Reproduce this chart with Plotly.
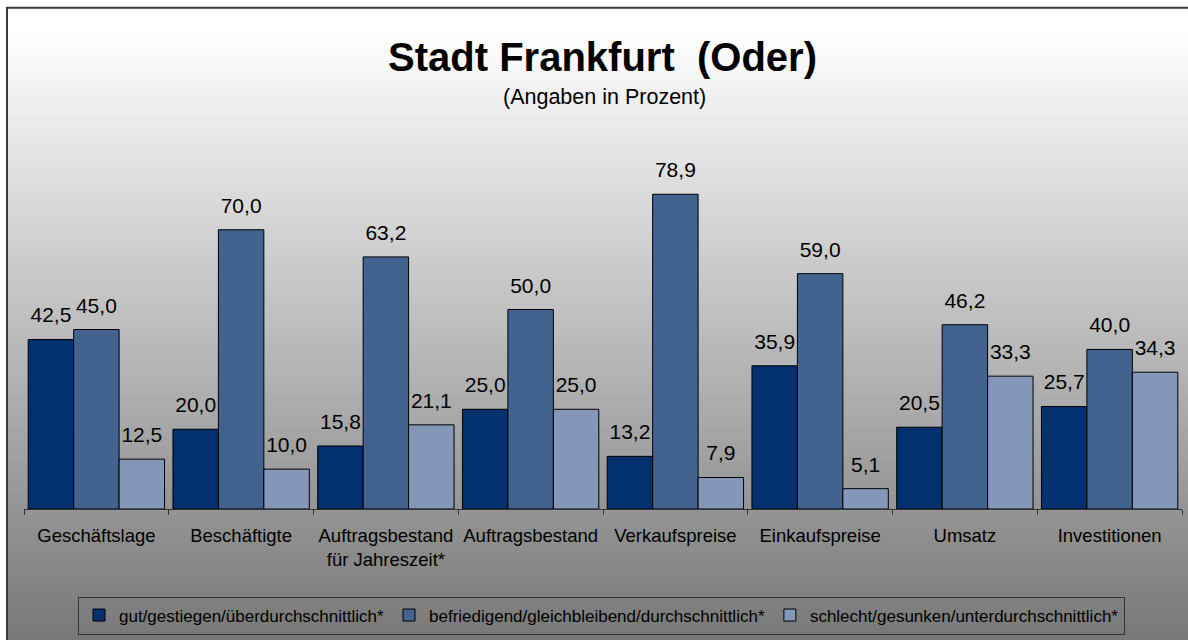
import plotly.graph_objects as go

categories = ["Geschäftslage", "Beschäftigte", "Auftragsbestand<br>für Jahreszeit*",
              "Auftragsbestand", "Verkaufspreise", "Einkaufspreise", "Umsatz", "Investitionen"]
series_names = ["gut/gestiegen/überdurchschnittlich*",
                "befriedigend/gleichbleibend/durchschnittlich*",
                "schlecht/gesunken/unterdurchschnittlich*"]
gut = [42.5, 20.0, 15.8, 25.0, 13.2, 35.9, 20.5, 25.7]
befriedigend = [45.0, 70.0, 63.2, 50.0, 78.9, 59.0, 46.2, 40.0]
schlecht = [12.5, 10.0, 21.1, 25.0, 7.9, 5.1, 33.3, 34.3]
colors = ["#03306F", "#42628F", "#8597B9"]

W, H = 1188, 640
L, R, T, B = 24, 6, 150, 129
PW, PH = W - L - R, H - T - B
FONT = "Liberation Sans, Arial, sans-serif"


def px_x(p):
    return (p - L) / PW


def px_y(p):
    return (H - B - p) / PH


def fmt(v):
    return f"{v:.1f}".replace(".", ",")


fig = go.Figure()
for name, vals, col in zip(series_names, [gut, befriedigend, schlecht], colors):
    fig.add_trace(go.Bar(
        x=categories, y=vals, name=name,
        marker=dict(color=col, line=dict(color="#000000", width=1)),
        hoverinfo="skip",
    ))
for vals in [gut, befriedigend, schlecht]:
    fig.add_trace(go.Scatter(
        x=categories, y=vals, mode="markers+text",
        text=[fmt(v) for v in vals], textposition="top center",
        textfont=dict(family=FONT, size=21, color="#000000"),
        marker=dict(size=17.2, opacity=0),
        showlegend=False, hoverinfo="skip", cliponaxis=False,
    ))

# background gradient (white at top to grey at bottom)
shapes = []
n = 80
y0p, y1p = 7, 660
for i in range(n):
    a = y0p + (y1p - y0p) * i / n
    b = y0p + (y1p - y0p) * (i + 1) / n
    mid = (a + b) / 2
    t = max(0.0, min(1.0, (mid - 30) / (640 - 30)))
    g = int(round(255 - t * (255 - 120)))
    shapes.append(dict(type="rect", xref="paper", yref="paper",
                       x0=px_x(7), x1=px_x(1200), y0=px_y(b + 1.5), y1=px_y(a),
                       fillcolor=f"rgb({g},{g},{g})", line=dict(width=0), layer="below"))
shapes.append(dict(type="rect", xref="paper", yref="paper",
                   x0=px_x(7), x1=px_x(1200), y0=px_y(660), y1=px_y(7),
                   fillcolor="rgba(0,0,0,0)", line=dict(color="#3a3a3a", width=2), layer="below"))

fig.update_layout(
    width=W, height=H,
    margin=dict(l=L, r=R, t=T, b=B, pad=0),
    paper_bgcolor="#ffffff", plot_bgcolor="rgba(0,0,0,0)",
    barmode="group", bargap=0.058, bargroupgap=0,
    scattermode="group", scattergap=0.058,
    font=dict(family=FONT, color="#000000"),
    title=dict(text="Stadt Frankfurt \u00a0(Oder)", x=602.5 / W, xref="container", xanchor="center",
               y=1 - 57 / H, yref="container", yanchor="middle",
               font=dict(family=FONT, size=40, weight="bold", color="#000000")),
    annotations=[dict(text="(Angaben in Prozent)", xref="paper", yref="paper",
                      x=px_x(604), y=px_y(97), xanchor="center", yanchor="middle",
                      showarrow=False, font=dict(family=FONT, size=21.5, color="#000000"))],
    shapes=shapes,
    showlegend=True,
    legend=dict(orientation="h", x=px_x(601.5), xanchor="center", y=px_y(599), yanchor="top",
                bgcolor="rgba(0,0,0,0)", bordercolor="#333333", borderwidth=1,
                font=dict(family=FONT, size=17, color="#000000"), traceorder="normal"),
    xaxis=dict(showgrid=False, zeroline=False, showline=True, linecolor="#333333", linewidth=1,
               ticks="outside", tickson="boundaries", ticklen=5, tickcolor="#333333",
               ticklabelstandoff=10,
               tickfont=dict(family=FONT, size=18.5, color="#000000"), fixedrange=True),
    yaxis=dict(range=[0, 90], visible=False, showgrid=False, zeroline=False, fixedrange=True),
)

fig.write_html("out.html", config={"displayModeBar": False},
               post_script="document.body.style.margin='0';")
